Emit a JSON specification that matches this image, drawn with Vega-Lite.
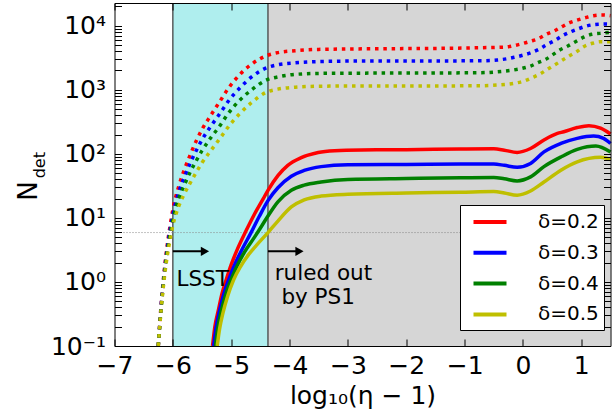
{
  "$schema": "https://vega.github.io/schema/vega-lite/v6.json",
  "width": 496,
  "height": 343,
  "autosize": {"type": "none"},
  "padding": {"left": 114.5, "top": 3, "right": 4.5, "bottom": 70},
  "background": "white",
  "config": {"font": "DejaVu Sans", "view": {"stroke": null}},
  "datasets": {
    "regions": [
      {"region": "LSST", "start": -6.0, "end": -4.37},
      {"region": "PS1", "start": -4.37, "end": 1.5}
    ],
    "bounds": [{"x": -6.0}, {"x": -4.37}],
    "threshold": [{"y": 5.9}],
    "total": [
      {"delta": "δ=0.2", "x": -6.25, "n": 0.1}, {"delta": "δ=0.2", "x": -6.2, "n": 0.447}, {"delta": "δ=0.2", "x": -6.15, "n": 1.41}, {"delta": "δ=0.2", "x": -6.1, "n": 3.55}, {"delta": "δ=0.2", "x": -6.05, "n": 7.24}, {"delta": "δ=0.2", "x": -6.0, "n": 13.5}, {"delta": "δ=0.2", "x": -5.9, "n": 30.9}, {"delta": "δ=0.2", "x": -5.8, "n": 57.5}, {"delta": "δ=0.2", "x": -5.7, "n": 97.7}, {"delta": "δ=0.2", "x": -5.6, "n": 158}, {"delta": "δ=0.2", "x": -5.5, "n": 240}, {"delta": "δ=0.2", "x": -5.35, "n": 398}, {"delta": "δ=0.2", "x": -5.2, "n": 646}, {"delta": "δ=0.2", "x": -5.05, "n": 1047}, {"delta": "δ=0.2", "x": -4.85, "n": 1738}, {"delta": "δ=0.2", "x": -4.65, "n": 2512}, {"delta": "δ=0.2", "x": -4.4, "n": 3388}, {"delta": "δ=0.2", "x": -4.2, "n": 3802}, {"delta": "δ=0.2", "x": -3.9, "n": 4074}, {"delta": "δ=0.2", "x": -3.5, "n": 4266}, {"delta": "δ=0.2", "x": -2.5, "n": 4365}, {"delta": "δ=0.2", "x": -1.5, "n": 4416}, {"delta": "δ=0.2", "x": -0.72, "n": 4529}, {"delta": "δ=0.2", "x": -0.3, "n": 4645}, {"delta": "δ=0.2", "x": -0.15, "n": 4898}, {"delta": "δ=0.2", "x": 0.01, "n": 5309}, {"delta": "δ=0.2", "x": 0.14, "n": 5754}, {"delta": "δ=0.2", "x": 0.27, "n": 6310}, {"delta": "δ=0.2", "x": 0.4, "n": 7345}, {"delta": "δ=0.2", "x": 0.54, "n": 8318}, {"delta": "δ=0.2", "x": 0.67, "n": 9661}, {"delta": "δ=0.2", "x": 0.8, "n": 11143}, {"delta": "δ=0.2", "x": 0.94, "n": 12303}, {"delta": "δ=0.2", "x": 1.09, "n": 13490}, {"delta": "δ=0.2", "x": 1.21, "n": 14322}, {"delta": "δ=0.2", "x": 1.36, "n": 14689}, {"delta": "δ=0.2", "x": 1.5, "n": 14322},
      {"delta": "δ=0.3", "x": -6.25, "n": 0.1}, {"delta": "δ=0.3", "x": -6.2, "n": 0.427}, {"delta": "δ=0.3", "x": -6.15, "n": 1.32}, {"delta": "δ=0.3", "x": -6.1, "n": 3.16}, {"delta": "δ=0.3", "x": -6.05, "n": 6.31}, {"delta": "δ=0.3", "x": -6.0, "n": 11.2}, {"delta": "δ=0.3", "x": -5.9, "n": 25.1}, {"delta": "δ=0.3", "x": -5.8, "n": 43.7}, {"delta": "δ=0.3", "x": -5.7, "n": 72.4}, {"delta": "δ=0.3", "x": -5.6, "n": 112}, {"delta": "δ=0.3", "x": -5.5, "n": 166}, {"delta": "δ=0.3", "x": -5.35, "n": 269}, {"delta": "δ=0.3", "x": -5.2, "n": 417}, {"delta": "δ=0.3", "x": -5.05, "n": 661}, {"delta": "δ=0.3", "x": -4.85, "n": 1072}, {"delta": "δ=0.3", "x": -4.65, "n": 1585}, {"delta": "δ=0.3", "x": -4.4, "n": 2188}, {"delta": "δ=0.3", "x": -4.2, "n": 2455}, {"delta": "δ=0.3", "x": -3.9, "n": 2630}, {"delta": "δ=0.3", "x": -3.5, "n": 2754}, {"delta": "δ=0.3", "x": -2.5, "n": 2818}, {"delta": "δ=0.3", "x": -1.5, "n": 2818}, {"delta": "δ=0.3", "x": -0.72, "n": 2838}, {"delta": "δ=0.3", "x": -0.44, "n": 2911}, {"delta": "δ=0.3", "x": -0.15, "n": 3206}, {"delta": "δ=0.3", "x": 0.01, "n": 3483}, {"delta": "δ=0.3", "x": 0.14, "n": 3784}, {"delta": "δ=0.3", "x": 0.27, "n": 4266}, {"delta": "δ=0.3", "x": 0.4, "n": 5012}, {"delta": "δ=0.3", "x": 0.54, "n": 5834}, {"delta": "δ=0.3", "x": 0.67, "n": 6918}, {"delta": "δ=0.3", "x": 0.8, "n": 7889}, {"delta": "δ=0.3", "x": 0.94, "n": 8872}, {"delta": "δ=0.3", "x": 1.09, "n": 9886}, {"delta": "δ=0.3", "x": 1.24, "n": 10471}, {"delta": "δ=0.3", "x": 1.4, "n": 10641}, {"delta": "δ=0.3", "x": 1.5, "n": 10593},
      {"delta": "δ=0.4", "x": -6.25, "n": 0.1}, {"delta": "δ=0.4", "x": -6.2, "n": 0.398}, {"delta": "δ=0.4", "x": -6.15, "n": 1.2}, {"delta": "δ=0.4", "x": -6.1, "n": 2.82}, {"delta": "δ=0.4", "x": -6.05, "n": 5.37}, {"delta": "δ=0.4", "x": -6.0, "n": 9.33}, {"delta": "δ=0.4", "x": -5.9, "n": 20.0}, {"delta": "δ=0.4", "x": -5.8, "n": 33.1}, {"delta": "δ=0.4", "x": -5.7, "n": 52.5}, {"delta": "δ=0.4", "x": -5.6, "n": 77.6}, {"delta": "δ=0.4", "x": -5.5, "n": 112}, {"delta": "δ=0.4", "x": -5.35, "n": 178}, {"delta": "δ=0.4", "x": -5.2, "n": 269}, {"delta": "δ=0.4", "x": -5.05, "n": 427}, {"delta": "δ=0.4", "x": -4.85, "n": 692}, {"delta": "δ=0.4", "x": -4.65, "n": 1000}, {"delta": "δ=0.4", "x": -4.4, "n": 1413}, {"delta": "δ=0.4", "x": -4.2, "n": 1585}, {"delta": "δ=0.4", "x": -3.9, "n": 1738}, {"delta": "δ=0.4", "x": -3.5, "n": 1799}, {"delta": "δ=0.4", "x": -2.5, "n": 1820}, {"delta": "δ=0.4", "x": -1.5, "n": 1828}, {"delta": "δ=0.4", "x": -0.72, "n": 1845}, {"delta": "δ=0.4", "x": -0.44, "n": 1905}, {"delta": "δ=0.4", "x": -0.15, "n": 2042}, {"delta": "δ=0.4", "x": -0.01, "n": 2158}, {"delta": "δ=0.4", "x": 0.13, "n": 2344}, {"delta": "δ=0.4", "x": 0.25, "n": 2630}, {"delta": "δ=0.4", "x": 0.39, "n": 2985}, {"delta": "δ=0.4", "x": 0.5, "n": 3467}, {"delta": "δ=0.4", "x": 0.63, "n": 4169}, {"delta": "δ=0.4", "x": 0.77, "n": 4819}, {"delta": "δ=0.4", "x": 0.9, "n": 5623}, {"delta": "δ=0.4", "x": 1.04, "n": 6607}, {"delta": "δ=0.4", "x": 1.18, "n": 7345}, {"delta": "δ=0.4", "x": 1.32, "n": 7586}, {"delta": "δ=0.4", "x": 1.5, "n": 7889},
      {"delta": "δ=0.5", "x": -6.25, "n": 0.1}, {"delta": "δ=0.5", "x": -6.2, "n": 0.38}, {"delta": "δ=0.5", "x": -6.15, "n": 1.07}, {"delta": "δ=0.5", "x": -6.1, "n": 2.4}, {"delta": "δ=0.5", "x": -6.05, "n": 4.47}, {"delta": "δ=0.5", "x": -6.0, "n": 7.59}, {"delta": "δ=0.5", "x": -5.9, "n": 15.1}, {"delta": "δ=0.5", "x": -5.8, "n": 24.0}, {"delta": "δ=0.5", "x": -5.7, "n": 35.5}, {"delta": "δ=0.5", "x": -5.6, "n": 51.3}, {"delta": "δ=0.5", "x": -5.5, "n": 72.4}, {"delta": "δ=0.5", "x": -5.35, "n": 112}, {"delta": "δ=0.5", "x": -5.2, "n": 170}, {"delta": "δ=0.5", "x": -5.05, "n": 263}, {"delta": "δ=0.5", "x": -4.85, "n": 427}, {"delta": "δ=0.5", "x": -4.65, "n": 631}, {"delta": "δ=0.5", "x": -4.4, "n": 912}, {"delta": "δ=0.5", "x": -4.2, "n": 1023}, {"delta": "δ=0.5", "x": -3.9, "n": 1096}, {"delta": "δ=0.5", "x": -3.5, "n": 1135}, {"delta": "δ=0.5", "x": -2.5, "n": 1148}, {"delta": "δ=0.5", "x": -1.5, "n": 1148}, {"delta": "δ=0.5", "x": -0.72, "n": 1155}, {"delta": "δ=0.5", "x": -0.44, "n": 1183}, {"delta": "δ=0.5", "x": -0.15, "n": 1259}, {"delta": "δ=0.5", "x": 0.02, "n": 1368}, {"delta": "δ=0.5", "x": 0.16, "n": 1549}, {"delta": "δ=0.5", "x": 0.29, "n": 1758}, {"delta": "δ=0.5", "x": 0.42, "n": 2089}, {"delta": "δ=0.5", "x": 0.54, "n": 2432}, {"delta": "δ=0.5", "x": 0.66, "n": 2838}, {"delta": "δ=0.5", "x": 0.79, "n": 3365}, {"delta": "δ=0.5", "x": 0.92, "n": 3926}, {"delta": "δ=0.5", "x": 1.04, "n": 4699}, {"delta": "δ=0.5", "x": 1.19, "n": 5309}, {"delta": "δ=0.5", "x": 1.33, "n": 5623}, {"delta": "δ=0.5", "x": 1.5, "n": 5623}
    ],
    "detected": [
      {"delta": "δ=0.2", "x": -5.32, "n": 0.1}, {"delta": "δ=0.2", "x": -5.28, "n": 0.2}, {"delta": "δ=0.2", "x": -5.22, "n": 0.363}, {"delta": "δ=0.2", "x": -5.16, "n": 0.646}, {"delta": "δ=0.2", "x": -5.08, "n": 1.12}, {"delta": "δ=0.2", "x": -5.0, "n": 1.86}, {"delta": "δ=0.2", "x": -4.89, "n": 3.31}, {"delta": "δ=0.2", "x": -4.75, "n": 6.17}, {"delta": "δ=0.2", "x": -4.6, "n": 11.5}, {"delta": "δ=0.2", "x": -4.45, "n": 20.0}, {"delta": "δ=0.2", "x": -4.37, "n": 26.9}, {"delta": "δ=0.2", "x": -4.2, "n": 45.7}, {"delta": "δ=0.2", "x": -4.03, "n": 66.1}, {"delta": "δ=0.2", "x": -3.8, "n": 87.1}, {"delta": "δ=0.2", "x": -3.51, "n": 105}, {"delta": "δ=0.2", "x": -3.23, "n": 112}, {"delta": "δ=0.2", "x": -2.77, "n": 115}, {"delta": "δ=0.2", "x": -2.0, "n": 116}, {"delta": "δ=0.2", "x": -1.07, "n": 119}, {"delta": "δ=0.2", "x": -0.5, "n": 120}, {"delta": "δ=0.2", "x": -0.32, "n": 114}, {"delta": "δ=0.2", "x": -0.1, "n": 105}, {"delta": "δ=0.2", "x": 0.13, "n": 121}, {"delta": "δ=0.2", "x": 0.36, "n": 164}, {"delta": "δ=0.2", "x": 0.59, "n": 208}, {"delta": "δ=0.2", "x": 0.7, "n": 221}, {"delta": "δ=0.2", "x": 0.93, "n": 257}, {"delta": "δ=0.2", "x": 1.13, "n": 275}, {"delta": "δ=0.2", "x": 1.33, "n": 251}, {"delta": "δ=0.2", "x": 1.5, "n": 204},
      {"delta": "δ=0.3", "x": -5.3, "n": 0.1}, {"delta": "δ=0.3", "x": -5.26, "n": 0.191}, {"delta": "δ=0.3", "x": -5.2, "n": 0.355}, {"delta": "δ=0.3", "x": -5.12, "n": 0.676}, {"delta": "δ=0.3", "x": -5.04, "n": 1.1}, {"delta": "δ=0.3", "x": -4.95, "n": 1.78}, {"delta": "δ=0.3", "x": -4.83, "n": 3.02}, {"delta": "δ=0.3", "x": -4.66, "n": 5.89}, {"delta": "δ=0.3", "x": -4.52, "n": 10.5}, {"delta": "δ=0.3", "x": -4.37, "n": 18.6}, {"delta": "δ=0.3", "x": -4.2, "n": 29.5}, {"delta": "δ=0.3", "x": -3.97, "n": 44.7}, {"delta": "δ=0.3", "x": -3.75, "n": 55.0}, {"delta": "δ=0.3", "x": -3.46, "n": 63.1}, {"delta": "δ=0.3", "x": -3.0, "n": 67.6}, {"delta": "δ=0.3", "x": -2.0, "n": 68.4}, {"delta": "δ=0.3", "x": -1.07, "n": 69.2}, {"delta": "δ=0.3", "x": -0.5, "n": 69.2}, {"delta": "δ=0.3", "x": -0.32, "n": 66.1}, {"delta": "δ=0.3", "x": -0.1, "n": 61.7}, {"delta": "δ=0.3", "x": 0.13, "n": 70.8}, {"delta": "δ=0.3", "x": 0.36, "n": 107}, {"delta": "δ=0.3", "x": 0.65, "n": 145}, {"delta": "δ=0.3", "x": 0.93, "n": 174}, {"delta": "δ=0.3", "x": 1.21, "n": 189}, {"delta": "δ=0.3", "x": 1.38, "n": 174}, {"delta": "δ=0.3", "x": 1.5, "n": 145},
      {"delta": "δ=0.4", "x": -5.27, "n": 0.1}, {"delta": "δ=0.4", "x": -5.23, "n": 0.191}, {"delta": "δ=0.4", "x": -5.17, "n": 0.355}, {"delta": "δ=0.4", "x": -5.09, "n": 0.661}, {"delta": "δ=0.4", "x": -5.0, "n": 1.1}, {"delta": "δ=0.4", "x": -4.9, "n": 1.78}, {"delta": "δ=0.4", "x": -4.77, "n": 2.95}, {"delta": "δ=0.4", "x": -4.6, "n": 5.01}, {"delta": "δ=0.4", "x": -4.48, "n": 7.41}, {"delta": "δ=0.4", "x": -4.37, "n": 10.7}, {"delta": "δ=0.4", "x": -4.2, "n": 17.8}, {"delta": "δ=0.4", "x": -3.97, "n": 26.9}, {"delta": "δ=0.4", "x": -3.75, "n": 32.4}, {"delta": "δ=0.4", "x": -3.46, "n": 36.3}, {"delta": "δ=0.4", "x": -3.0, "n": 39.8}, {"delta": "δ=0.4", "x": -2.0, "n": 41.2}, {"delta": "δ=0.4", "x": -1.07, "n": 42.2}, {"delta": "δ=0.4", "x": -0.5, "n": 42.7}, {"delta": "δ=0.4", "x": -0.32, "n": 40.7}, {"delta": "δ=0.4", "x": -0.1, "n": 37.8}, {"delta": "δ=0.4", "x": 0.13, "n": 43.7}, {"delta": "δ=0.4", "x": 0.36, "n": 63.1}, {"delta": "δ=0.4", "x": 0.65, "n": 89.1}, {"delta": "δ=0.4", "x": 0.93, "n": 117}, {"delta": "δ=0.4", "x": 1.25, "n": 132}, {"delta": "δ=0.4", "x": 1.5, "n": 107},
      {"delta": "δ=0.5", "x": -5.24, "n": 0.1}, {"delta": "δ=0.5", "x": -5.2, "n": 0.182}, {"delta": "δ=0.5", "x": -5.14, "n": 0.331}, {"delta": "δ=0.5", "x": -5.06, "n": 0.603}, {"delta": "δ=0.5", "x": -4.96, "n": 1.07}, {"delta": "δ=0.5", "x": -4.84, "n": 1.74}, {"delta": "δ=0.5", "x": -4.7, "n": 2.69}, {"delta": "δ=0.5", "x": -4.55, "n": 3.89}, {"delta": "δ=0.5", "x": -4.37, "n": 5.89}, {"delta": "δ=0.5", "x": -4.2, "n": 8.91}, {"delta": "δ=0.5", "x": -3.97, "n": 14.8}, {"delta": "δ=0.5", "x": -3.75, "n": 19.1}, {"delta": "δ=0.5", "x": -3.46, "n": 21.9}, {"delta": "δ=0.5", "x": -3.0, "n": 23.4}, {"delta": "δ=0.5", "x": -2.0, "n": 24.5}, {"delta": "δ=0.5", "x": -1.07, "n": 25.1}, {"delta": "δ=0.5", "x": -0.5, "n": 25.7}, {"delta": "δ=0.5", "x": -0.32, "n": 24.5}, {"delta": "δ=0.5", "x": -0.1, "n": 22.6}, {"delta": "δ=0.5", "x": 0.13, "n": 26.3}, {"delta": "δ=0.5", "x": 0.36, "n": 36.3}, {"delta": "δ=0.5", "x": 0.65, "n": 55.6}, {"delta": "δ=0.5", "x": 0.93, "n": 75.0}, {"delta": "δ=0.5", "x": 1.33, "n": 88.1}, {"delta": "δ=0.5", "x": 1.5, "n": 81.3}
    ],
    "arrows": [
      {"start": -6.0, "end": -5.45, "y": 3},
      {"start": -4.37, "end": -3.83, "y": 3}
    ],
    "notes": [
      {"text": "LSST", "x": -5.49, "y": 0.857},
      {"text": "ruled out", "x": -3.42, "y": 1.06},
      {"text": "by PS1", "x": -3.51, "y": 0.46}
    ],
    "subscript": [{"text": "det", "x": -8.19, "y": 66.5}]
  },
  "resolve": {
    "scale": {"color": "independent"},
    "axis": {"x": "independent", "y": "independent"}
  },
  "layer": [
    {
      "data": {"name": "regions"},
      "mark": {"type": "rect"},
      "encoding": {
        "x": {
          "field": "start", "type": "quantitative",
          "scale": {"domain": [-7, 1.5], "nice": false, "zero": false},
          "axis": {
            "orient": "bottom", "values": [-7, -6, -5, -4, -3, -2, -1, 0, 1], "format": "d",
            "title": "log₁₀(η − 1)", "titleFontSize": 25, "titleFontWeight": "normal", "titleColor": "black",
            "titleBaseline": "alphabetic", "titleY": 57,
            "labelFontSize": 25, "labelColor": "black", "labelPadding": 14.5, "labelFlush": false, "labelOverlap": false,
            "tickSize": -7, "tickColor": "black", "tickWidth": 1,
            "domain": true, "domainColor": "black", "domainWidth": 1, "grid": false, "zindex": 1
          }
        },
        "x2": {"field": "end"},
        "fill": {
          "field": "region", "type": "nominal",
          "scale": {"domain": ["LSST", "PS1"], "range": ["#afeeee", "#d6d6d6"]},
          "legend": null
        }
      }
    },
    {
      "data": {"name": "bounds"},
      "mark": {"type": "rule", "color": "#444444", "strokeWidth": 1.3},
      "encoding": {
        "x": {
          "field": "x", "type": "quantitative",
          "scale": {"domain": [-7, 1.5], "nice": false, "zero": false},
          "axis": {
            "orient": "top", "values": [-7, -6, -5, -4, -3, -2, -1, 0, 1], "labels": false, "title": null,
            "tickSize": -7, "tickColor": "black", "tickWidth": 1,
            "domain": true, "domainColor": "black", "domainWidth": 1, "grid": false, "zindex": 1
          }
        }
      }
    },
    {
      "data": {"name": "threshold"},
      "mark": {"type": "rule", "color": "#888888", "strokeWidth": 1, "strokeDash": [1, 2]},
      "encoding": {
        "y": {
          "field": "y", "type": "quantitative",
          "scale": {"type": "log", "domain": [0.1, 22600], "nice": false},
          "axis": {
            "orient": "left",
            "values": [0.1, 0.2, 0.3, 0.4, 0.5, 0.6, 0.7, 0.8, 0.9, 1, 2, 3, 4, 5, 6, 7, 8, 9, 10, 20, 30, 40, 50, 60, 70, 80, 90, 100, 200, 300, 400, 500, 600, 700, 800, 900, 1000, 2000, 3000, 4000, 5000, 6000, 7000, 8000, 9000, 10000, 20000],
            "labelExpr": "abs(log(datum.value)/LN10 - round(log(datum.value)/LN10)) < 0.01 ? '10' + ['⁻¹','⁰','¹','²','³','⁴'][round(log(datum.value)/LN10) + 1] : ''",
            "labelFontSize": 25, "labelColor": "black", "labelPadding": 16, "labelFlush": false, "labelOverlap": false, "labelBound": false,
            "tickSize": -7, "tickColor": "black", "tickWidth": 1,
            "title": "N", "titleFontSize": 26, "titleFontWeight": "normal", "titleColor": "black",
            "titleAngle": 270, "titleAlign": "center", "titleBaseline": "alphabetic", "titleX": -77.8, "titleY": 187.5,
            "domain": true, "domainColor": "black", "domainWidth": 1, "grid": false, "zindex": 1,
            "encode": {"ticks": {"update": {"x2": {"signal": "abs(log(datum.value)/LN10 - round(log(datum.value)/LN10)) < 0.01 ? 7 : 4"}}}}
          }
        }
      }
    },
    {
      "data": {"name": "total"},
      "mark": {"type": "line", "strokeWidth": 3.5, "strokeDash": [3.5, 4.8], "strokeCap": "butt", "interpolate": "monotone"},
      "encoding": {
        "x": {"field": "x", "type": "quantitative", "scale": {"domain": [-7, 1.5], "nice": false, "zero": false}, "axis": null},
        "y": {
          "field": "n", "type": "quantitative",
          "scale": {"type": "log", "domain": [0.1, 22600], "nice": false},
          "axis": {
            "orient": "right",
            "values": [0.1, 0.2, 0.3, 0.4, 0.5, 0.6, 0.7, 0.8, 0.9, 1, 2, 3, 4, 5, 6, 7, 8, 9, 10, 20, 30, 40, 50, 60, 70, 80, 90, 100, 200, 300, 400, 500, 600, 700, 800, 900, 1000, 2000, 3000, 4000, 5000, 6000, 7000, 8000, 9000, 10000, 20000],
            "labels": false, "title": null,
            "tickSize": -7, "tickColor": "black", "tickWidth": 1,
            "domain": true, "domainColor": "black", "domainWidth": 1, "grid": false, "zindex": 1,
            "encode": {"ticks": {"update": {"x2": {"signal": "abs(log(datum.value)/LN10 - round(log(datum.value)/LN10)) < 0.01 ? -7 : -4"}}}}
          }
        },
        "color": {
          "field": "delta", "type": "nominal",
          "scale": {"domain": ["δ=0.2", "δ=0.3", "δ=0.4", "δ=0.5"], "range": ["#ff0000", "#0000ff", "#008000", "#bfbf00"]},
          "legend": null
        },
        "order": {"field": "x", "type": "quantitative"}
      }
    },
    {
      "data": {"name": "detected"},
      "mark": {"type": "line", "strokeWidth": 3.5, "interpolate": "monotone"},
      "encoding": {
        "x": {"field": "x", "type": "quantitative", "scale": {"domain": [-7, 1.5], "nice": false, "zero": false}, "axis": null},
        "y": {"field": "n", "type": "quantitative", "scale": {"type": "log", "domain": [0.1, 22600], "nice": false}, "axis": null},
        "color": {
          "field": "delta", "type": "nominal",
          "scale": {"domain": ["δ=0.2", "δ=0.3", "δ=0.4", "δ=0.5"], "range": ["#ff0000", "#0000ff", "#008000", "#bfbf00"]},
          "legend": {
            "orient": "none", "legendX": 345.5, "legendY": 202, "title": null,
            "labelFontSize": 20, "labelFont": "DejaVu Sans", "labelColor": "black",
            "symbolType": "M-1.65,0H1.65", "symbolSize": 400, "symbolStrokeWidth": 4,
            "labelOffset": 36, "padding": 5, "symbolOffset": 13, "rowPadding": 8.8,
            "strokeColor": "black", "fillColor": "white", "cornerRadius": 0
          }
        },
        "order": {"field": "x", "type": "quantitative"}
      }
    },
    {
      "data": {"name": "arrows"},
      "mark": {"type": "rule", "color": "black", "strokeWidth": 2},
      "encoding": {
        "x": {"field": "start", "type": "quantitative", "scale": {"domain": [-7, 1.5], "nice": false, "zero": false}, "axis": null},
        "x2": {"field": "end"},
        "y": {"field": "y", "type": "quantitative", "scale": {"type": "log", "domain": [0.1, 22600], "nice": false}, "axis": null}
      }
    },
    {
      "data": {"name": "arrows"},
      "mark": {"type": "point", "shape": "triangle-right", "filled": true, "color": "black", "size": 90, "opacity": 1},
      "encoding": {
        "x": {"field": "end", "type": "quantitative", "scale": {"domain": [-7, 1.5], "nice": false, "zero": false}, "axis": null},
        "y": {"field": "y", "type": "quantitative", "scale": {"type": "log", "domain": [0.1, 22600], "nice": false}, "axis": null}
      }
    },
    {
      "data": {"name": "notes"},
      "mark": {"type": "text", "fontSize": 21.5, "color": "black", "align": "center", "baseline": "alphabetic"},
      "encoding": {
        "x": {"field": "x", "type": "quantitative", "scale": {"domain": [-7, 1.5], "nice": false, "zero": false}, "axis": null},
        "y": {"field": "y", "type": "quantitative", "scale": {"type": "log", "domain": [0.1, 22600], "nice": false}, "axis": null},
        "text": {"field": "text"}
      }
    },
    {
      "data": {"name": "subscript"},
      "mark": {"type": "text", "fontSize": 16, "color": "black", "align": "center", "baseline": "alphabetic", "angle": 270},
      "encoding": {
        "x": {"field": "x", "type": "quantitative", "scale": {"domain": [-7, 1.5], "nice": false, "zero": false}, "axis": null},
        "y": {"field": "y", "type": "quantitative", "scale": {"type": "log", "domain": [0.1, 22600], "nice": false}, "axis": null},
        "text": {"field": "text"}
      }
    }
  ]
}
